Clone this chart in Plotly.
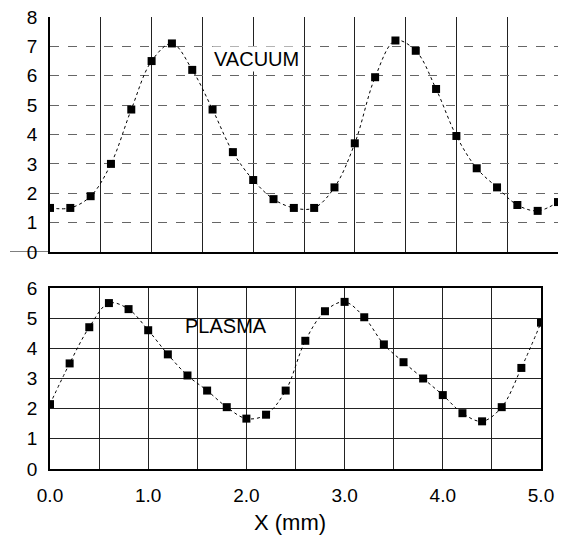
import plotly.graph_objects as go

W, H = 571, 541

x_mm = [round(i * 0.2, 1) for i in range(26)]

vacuum = [1.5, 1.5, 1.9, 3.0, 4.85, 6.5, 7.1, 6.2, 4.85, 3.4, 2.45, 1.8, 1.5,
          1.5, 2.2, 3.7, 5.95, 7.2, 6.85, 5.55, 3.95, 2.85, 2.2, 1.6, 1.4, 1.7]

plasma = [2.15, 3.5, 4.7, 5.5, 5.3, 4.6, 3.8, 3.1, 2.6, 2.05, 1.67, 1.8, 2.6,
          4.25, 5.23, 5.54, 5.03, 4.13, 3.54, 3.0, 2.45, 1.85, 1.58, 2.05, 3.35, 4.85]

grid_x = [0, 0.5, 1, 1.5, 2, 2.5, 3, 3.5, 4, 4.5, 5]
x_ticktext = ["0.0", "", "1.0", "", "2.0", "", "3.0", "", "4.0", "", "5.0"]
top_yticks = [0, 1, 2, 3, 4, 5, 6, 7, 8]
bot_yticks = [0, 1, 2, 3, 4, 5, 6]

FONT = "Liberation Sans, Arial, sans-serif"

fig = go.Figure()

marker = dict(symbol="square", size=8, color="black")
line = dict(color="black", width=1, dash="dot", shape="spline")

fig.add_trace(go.Scatter(x=x_mm, y=vacuum, mode="lines+markers", marker=marker,
                         line=line, xaxis="x", yaxis="y", showlegend=False))
fig.add_trace(go.Scatter(x=x_mm, y=plasma, mode="lines+markers", marker=marker,
                         line=line, xaxis="x2", yaxis="y2", showlegend=False))

tickfont = dict(family=FONT, size=19, color="black")

fig.update_layout(
    width=W, height=H,
    margin=dict(l=0, r=0, t=0, b=0),
    paper_bgcolor="white", plot_bgcolor="white",
    font=dict(family=FONT, color="black"),
    xaxis=dict(domain=[50 / W, 558 / W], range=[0, 5], anchor="y",
               tickmode="array", tickvals=grid_x, showticklabels=False,
               showgrid=True, gridcolor="#222", gridwidth=1,
               showline=True, linecolor="black", linewidth=1.5,
               zeroline=False, automargin=False, ticks=""),
    yaxis=dict(domain=[1 - 252 / H, 1 - 17 / H], range=[0, 8], anchor="x",
               tickmode="array", tickvals=top_yticks, tickfont=tickfont,
               showgrid=True, gridcolor="#666", gridwidth=1, griddash="dash",
               showline=True, linecolor="black", linewidth=1.5,
               zeroline=False, automargin=False, ticks="",
               ticklabelstandoff=7),
    xaxis2=dict(domain=[50 / W, 541 / W], range=[0, 5], anchor="y2",
                tickmode="array", tickvals=grid_x, ticktext=x_ticktext,
                tickfont=tickfont,
                showgrid=True, gridcolor="#222", gridwidth=1,
                showline=True, linecolor="black", linewidth=1.5, mirror=True,
                zeroline=False, automargin=False, ticks="",
                ticklabelstandoff=8),
    yaxis2=dict(domain=[1 - 469 / H, 1 - 288 / H], range=[0, 6], anchor="x2",
                tickmode="array", tickvals=bot_yticks, tickfont=tickfont,
                showgrid=True, gridcolor="#222", gridwidth=1,
                showline=True, linecolor="black", linewidth=1.5, mirror=True,
                zeroline=False, automargin=False, ticks="",
                ticklabelstandoff=7),
)

fig.add_annotation(x=2.03, y=6.57, xref="x", yref="y", text="VACUUM",
                   showarrow=False, font=dict(family=FONT, size=20, color="black"),
                   bgcolor="white")
fig.add_annotation(x=1.79, y=4.74, xref="x2", yref="y2", text="PLASMA",
                   showarrow=False, font=dict(family=FONT, size=20, color="black"))
fig.add_annotation(x=290 / W, y=1 - 522 / H, xref="paper", yref="paper",
                   xanchor="center", yanchor="middle",
                   text="X (mm)", showarrow=False,
                   font=dict(family=FONT, size=22, color="black"))

# small extension of the top panel's baseline to the left of its axis
fig.add_shape(type="line", xref="paper", yref="y", x0=10 / W, x1=50 / W,
              y0=0, y1=0, line=dict(color="black", width=1.2))

fig.write_html("out.html", config={"displayModeBar": False},
               post_script="document.body.style.margin='0';document.body.style.padding='0';")
